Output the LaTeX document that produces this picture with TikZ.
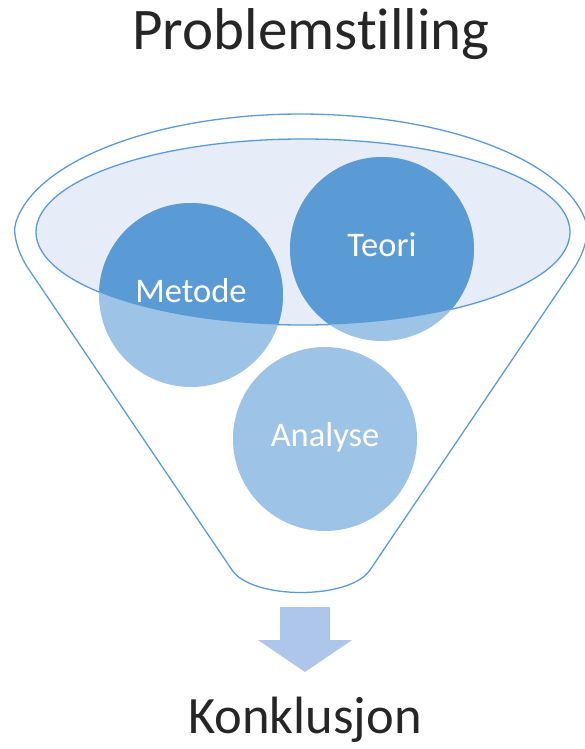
\documentclass[tikz,border=0pt]{standalone}
\usepackage{fontspec}
\setmainfont{Carlito}[Ligatures={NoCommon}]
\usepackage{xcolor}
\definecolor{accent}{HTML}{5B9BD5}
\definecolor{accentlight}{HTML}{9DC3E6}
\definecolor{rimfill}{HTML}{E6EDF8}
\definecolor{arrowblue}{HTML}{ADC6E9}
\tikzset{
  rimline/.style={draw=accent, line width=1.3pt},
  bubble/.style={circle, fill=accentlight, minimum size=184pt, inner sep=0pt,
    text=white, text height=14pt, text depth=0pt, font=\fontsize{34.5}{36}\selectfont,
    path picture={\fill[accent] (rim) ellipse [x radius=267pt, y radius=93pt];}},
  heading/.style={anchor=base, text=black!85},
}

\begin{document}
\begin{tikzpicture}[x=1pt, y=-1pt]
  \useasboundingbox (0,0) rectangle (585,749);
  % funnel body
  \draw[rimline, fill=white] (27.9,268) .. controls (19.8,256) and (11.8,235) .. (15.8,222.5)
    arc[start angle=188, end angle=352, x radius=288, y radius=126]
    .. controls (590.2,235) and (582.2,256) .. (574.1,268)
    -- (370,570) .. controls (350,600) and (252,600) .. (232,570) -- cycle;
  \coordinate (rim) at (303,232);
  \draw[rimline, fill=rimfill] (rim) ellipse [x radius=267, y radius=93]; % opening
  % the three parts
  \node[bubble] (metode) at (191,295) {Metode};
  \node[bubble] (teori) at (382,249) {Teori};
  \node[bubble] (analyse) at (325,439) {Analyse};
  % outlet arrow
  \fill[arrowblue] (280,607) -- (330,607) -- (330,640) -- (352,640) -- (305,672) -- (258,640) -- (280,640) -- cycle;
  \node[heading, font=\fontsize{59}{62}\selectfont] (problem) at (311,50) {Problemstilling};
  \node[heading, font=\fontsize{52.5}{55}\selectfont] (konklusjon) at (305,733) {Konklusjon};
\end{tikzpicture}
\end{document}
